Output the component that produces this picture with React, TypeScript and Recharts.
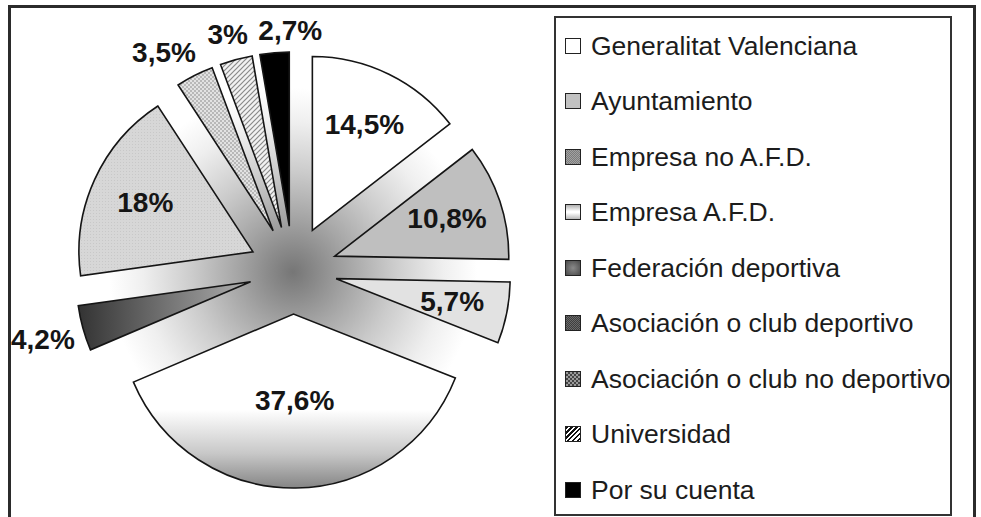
import React from 'react';
import { PieChart, Pie, Cell, Sector, Legend } from 'recharts';

const categories = [
  'Generalitat Valenciana',
  'Ayuntamiento',
  'Empresa no A.F.D.',
  'Empresa A.F.D.',
  'Federación deportiva',
  'Asociación o club deportivo',
  'Asociación o club no deportivo',
  'Universidad',
  'Por su cuenta',
];
const values = [14.5, 10.8, 5.7, 37.6, 4.2, 18, 3.5, 3, 2.7];
const valueLabels = ['14,5%', '10,8%', '5,7%', '37,6%', '4,2%', '18%', '3,5%', '3%', '2,7%'];

const sliceFills = [
  '#ffffff',
  '#bfbfbf',
  '#e2e2e2',
  'url(#gradAFD)',
  'url(#gradFed)',
  'url(#dotsClub)',
  'url(#checkNoDep)',
  'url(#hatchUni)',
  '#000000',
];
const legendSwatches = [
  '#ffffff',
  '#c2c2c2',
  'repeating-conic-gradient(#7c7c7c 0 25%, #a2a2a2 0 50%) 0 0/2px 2px',
  'linear-gradient(#b0b0b0, #ffffff 45%, #ffffff 55%, #b8b8b8)',
  'radial-gradient(circle, #8a8a8a 0%, #4a4a4a 100%)',
  'repeating-conic-gradient(#3e3e3e 0 25%, #6a6a6a 0 50%) 0 0/2px 2px',
  'repeating-conic-gradient(#444444 0 25%, #9a9a9a 0 50%) 0 0/4px 4px',
  'repeating-linear-gradient(135deg, #111 0 1.5px, #fff 1.5px 3.5px)',
  '#000000',
];

const data = categories.map((name, i) => ({ name, value: values[i], label: valueLabels[i] }));

const W = 981;
const H = 517;
const PIE_CX = 293;
const PIE_CY = 270;
const PIE_R = 174;
const EXPLODE = 44;
const RAD = Math.PI / 180;
const FONT = '"Liberation Sans", Arial, Helvetica, sans-serif';
const LABEL_SIZE = 28;
const LABEL_GAP = 10;

function textWidth(s: string, size: number) {
  let w = 0;
  for (const ch of s) w += ch === ',' ? 0.278 : ch === '%' ? 0.889 : 0.556;
  return w * size;
}

function ExplodedSlice(props: any) {
  const { cx, cy, midAngle, innerRadius, outerRadius, startAngle, endAngle, fill } = props;
  const dx = EXPLODE * Math.cos(-midAngle * RAD);
  const dy = EXPLODE * Math.sin(-midAngle * RAD);
  return (
    <Sector
      cx={cx + dx}
      cy={cy + dy}
      innerRadius={innerRadius}
      outerRadius={outerRadius}
      startAngle={startAngle}
      endAngle={endAngle}
      fill={fill}
      stroke="#151515"
      strokeWidth={1.6}
      strokeLinejoin="miter"
    />
  );
}

// outside labels: the pie's own label props are collected, then spread apart if they collide
const outsideRegistry: Record<number, any> = {};

function placeOutside(e: any, ang: number) {
  const ux = Math.cos(-ang * RAD);
  const uy = Math.sin(-ang * RAD);
  const a = e.w / 2;
  const b = LABEL_SIZE / 2;
  const r = e.outerRadius + EXPLODE + 7 + a * Math.abs(ux) + b * Math.abs(uy);
  return { x: e.cx + r * ux, y: e.cy + r * uy };
}

function resolveOutside() {
  const cw = (ang: number) => (((90 - ang) % 360) + 360) % 360;
  const items = Object.keys(outsideRegistry).map((k) => {
    const e = outsideRegistry[+k];
    return { index: +k, e, ang: e.midAngle };
  });
  items.sort((p, q) => cw(p.ang) - cw(q.ang));
  for (let iter = 0; iter < 600; iter++) {
    let moved = false;
    for (let i = 0; i < items.length - 1; i++) {
      const A = items[i];
      const B = items[i + 1];
      const pa = placeOutside(A.e, A.ang);
      const pb = placeOutside(B.e, B.ang);
      const ox = (A.e.w + B.e.w) / 2 + LABEL_GAP - Math.abs(pa.x - pb.x);
      const oy = LABEL_SIZE * 0.8 - Math.abs(pa.y - pb.y);
      if (ox > 0 && oy > 0) {
        A.ang += 0.2;
        B.ang -= 0.2;
        moved = true;
      }
    }
    if (!moved) break;
  }
  const out: Record<number, { x: number; y: number }> = {};
  items.forEach((it) => {
    out[it.index] = placeOutside(it.e, it.ang);
  });
  return out;
}

function LabelText({ x, y, label }: { x: number; y: number; label: string }) {
  return (
    <text
      x={x}
      y={y}
      textAnchor="middle"
      dominantBaseline="central"
      fontSize={LABEL_SIZE}
      fontWeight="bold"
      fontFamily={FONT}
      fill="#151515"
    >
      {label}
    </text>
  );
}

function OutsideLabel({ index, label }: { index: number; label: string }) {
  const pos = resolveOutside()[index];
  if (!pos) return null;
  return <LabelText x={pos.x} y={pos.y} label={label} />;
}

function SliceLabel(props: any) {
  const { cx, cy, midAngle, outerRadius, percent, index, payload } = props;
  const label = (payload && payload.label) || valueLabels[index];
  const ux = Math.cos(-midAngle * RAD);
  const uy = Math.sin(-midAngle * RAD);
  if (percent >= 0.05) {
    const r = percent > 0.3 ? outerRadius * 0.5 : outerRadius * 0.68;
    return <LabelText x={cx + (EXPLODE + r) * ux} y={cy + (EXPLODE + r) * uy} label={label} />;
  }
  outsideRegistry[index] = { cx, cy, midAngle, outerRadius, w: textWidth(label, LABEL_SIZE) };
  return <OutsideLabel index={index} label={label} />;
}

function LegendBox() {
  return (
    <div
      style={{
        width: 398,
        height: 500,
        boxSizing: 'border-box',
        border: '2px solid #333',
        background: '#fff',
        fontFamily: FONT,
      }}
    >
      {categories.map((name, i) => (
        <div
          key={name}
          style={{ height: 55.5, display: 'flex', alignItems: 'center', paddingLeft: 9, whiteSpace: 'nowrap' }}
        >
          <div
            style={{
              width: 16,
              height: 16,
              boxSizing: 'border-box',
              border: '1.5px solid #222',
              background: legendSwatches[i],
              flex: '0 0 auto',
            }}
          />
          <span style={{ marginLeft: 10, fontSize: 26.5, color: '#1c1c1c', lineHeight: 1 }}>{name}</span>
        </div>
      ))}
    </div>
  );
}

export default function App() {
  return (
    <div style={{ position: 'absolute', left: 0, top: 0, width: W, height: H, background: '#fff', overflow: 'hidden' }}>
      <div
        style={{
          position: 'absolute',
          left: 0,
          top: 0,
          width: W,
          height: H,
          background: `radial-gradient(circle 200px at ${PIE_CX}px ${PIE_CY + 2}px, #767676 0%, #8a8a8a 12%, #a6a6a6 28%, #cbcbcb 50%, #efefef 75%, #ffffff 92%)`,
        }}
      />
      <div
        style={{
          position: 'absolute',
          left: 8,
          top: 5,
          width: 968,
          height: 600,
          boxSizing: 'border-box',
          borderTop: '3px solid #2b2b2b',
          borderLeft: '3px solid #2b2b2b',
          borderRight: '3px solid #2b2b2b',
        }}
      />
      <div style={{ position: 'absolute', left: 0, top: 0 }}>
        <PieChart width={W} height={H} margin={{ top: 0, right: 0, bottom: 0, left: 0 }}>
          <defs>
            <linearGradient id="gradAFD" x1="0" y1="0" x2="0" y2="1">
              <stop offset="0" stopColor="#ffffff" />
              <stop offset="0.55" stopColor="#ffffff" />
              <stop offset="0.8" stopColor="#c8c8c8" />
              <stop offset="1" stopColor="#858585" />
            </linearGradient>
            <linearGradient id="gradFed" x1="0" y1="0" x2="1" y2="0">
              <stop offset="0" stopColor="#333333" />
              <stop offset="1" stopColor="#b0b0b0" />
            </linearGradient>
            <pattern id="dotsClub" width="3" height="3" patternUnits="userSpaceOnUse">
              <rect width="3" height="3" fill="#d7d7d7" />
              <rect width="1" height="1" fill="#c8c8c8" />
            </pattern>
            <pattern id="checkNoDep" width="4" height="4" patternUnits="userSpaceOnUse">
              <rect width="4" height="4" fill="#e2e2e2" />
              <rect width="2" height="2" fill="#b8b8b8" />
              <rect x="2" y="2" width="2" height="2" fill="#b8b8b8" />
            </pattern>
            <pattern id="hatchUni" width="5" height="5" patternUnits="userSpaceOnUse">
              <rect width="5" height="5" fill="#f2f2f2" />
              <path d="M0,5 L5,0 M-1,1 L1,-1 M4,6 L6,4" stroke="#8a8a8a" strokeWidth="1.2" />
            </pattern>
          </defs>
          <Pie
            data={data}
            dataKey="value"
            nameKey="name"
            cx={PIE_CX}
            cy={PIE_CY}
            outerRadius={PIE_R}
            startAngle={90}
            endAngle={-270}
            isAnimationActive={false}
            shape={ExplodedSlice}
            activeShape={ExplodedSlice}
            inactiveShape={ExplodedSlice}
            label={SliceLabel}
            labelLine={false}
            stroke="#151515"
          >
            {data.map((d, i) => (
              <Cell key={d.name} fill={sliceFills[i]} />
            ))}
          </Pie>
          <Legend
            content={LegendBox}
            wrapperStyle={{ position: 'absolute', left: 554, top: 16, width: 398, height: 500 }}
          />
        </PieChart>
      </div>
    </div>
  );
}
